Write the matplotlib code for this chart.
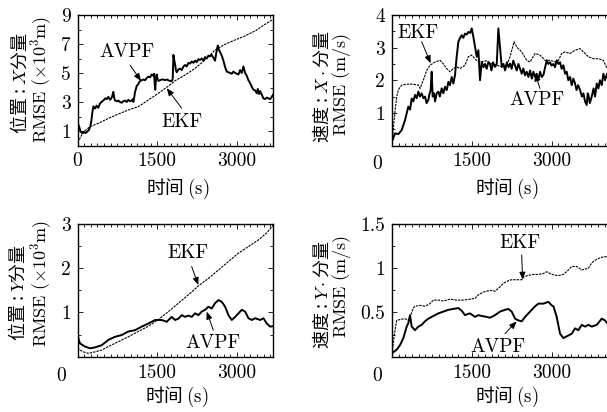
import matplotlib
matplotlib.use("Agg")
import matplotlib.pyplot as plt
from matplotlib.ticker import MultipleLocator

plt.rcParams['font.family'] = ['cmr10', 'Noto Sans CJK SC', 'DejaVu Sans']
plt.rcParams['mathtext.fontset'] = 'cm'
plt.rcParams['axes.unicode_minus'] = False
plt.rcParams['axes.formatter.use_mathtext'] = True

# ---------------- data ----------------
# Position X (x10^3 m)
px_avpf_t = [0, 30, 60, 90, 120, 150, 180, 210, 240, 260, 280, 300, 330, 360, 390, 423, 450, 486, 520, 549, 580,
             612, 643, 660, 674, 690, 705, 737, 768, 800, 831, 862, 893, 925, 956, 988, 1019, 1040, 1050, 1065,
             1082, 1113, 1144, 1176, 1207, 1238, 1270, 1301, 1332, 1364, 1395, 1427, 1440, 1450, 1462, 1475, 1489,
             1505, 1520, 1550, 1583, 1614, 1646, 1677, 1709, 1740, 1771, 1790, 1803, 1818, 1834, 1850, 1866, 1897,
             1928, 1960, 1991, 2022, 2053, 2085, 2116, 2147, 2179, 2210, 2241, 2273, 2304, 2335, 2367, 2398, 2429,
             2461, 2492, 2523, 2555, 2586, 2610, 2637, 2660, 2680, 2712, 2743, 2775, 2806, 2837, 2869, 2900, 2931,
             2963, 2994, 3025, 3057, 3088, 3119, 3151, 3182, 3213, 3245, 3276, 3307, 3339, 3370, 3389, 3410, 3433,
             3464, 3495, 3527, 3558, 3590, 3621, 3652, 3675]
px_avpf_v = [1.6, 1.3, 0.95, 0.85, 0.95, 0.85, 0.95, 1.05, 1.3, 1.7, 2.3, 2.7, 2.55, 2.75, 2.6, 2.9, 3.0, 3.1, 3.25,
             3.2, 3.35, 3.15, 3.3, 3.5, 3.7, 3.3, 3.1, 3.05, 3.1, 3.0, 2.95, 3.05, 3.1, 3.0, 3.15, 3.05, 3.1, 3.2,
             3.0, 3.3, 3.7, 4.1, 4.25, 4.45, 4.5, 4.55, 4.5, 4.65, 4.75, 4.7, 4.9, 4.8, 4.95, 4.3, 3.85, 4.6, 4.9,
             4.6, 4.45, 4.5, 4.55, 4.55, 4.5, 4.55, 4.5, 4.45, 4.45, 4.6, 6.25, 5.9, 5.6, 5.2, 5.05, 5.25, 5.3, 5.2,
             5.45, 5.55, 5.45, 5.7, 5.65, 5.8, 5.7, 5.85, 5.75, 5.95, 5.9, 6.0, 5.85, 6.1, 6.0, 6.2, 6.15, 6.25,
             6.05, 5.85, 6.4, 6.9, 6.6, 6.45, 6.2, 5.85, 5.4, 5.1, 5.05, 5.0, 4.95, 5.1, 5.0, 4.95, 4.9, 5.2, 5.0,
             5.45, 5.0, 4.8, 4.5, 4.3, 4.05, 3.85, 3.8, 3.6, 3.9, 3.55, 3.75, 3.5, 3.25, 3.2, 3.3, 3.25, 3.2, 3.35,
             3.5]
px_ekf_t = [0, 40, 78, 141, 235, 392, 580, 768, 956, 1144, 1332, 1520, 1709, 1834, 2022, 2210, 2398, 2586, 2774,
            2963, 3151, 3339, 3527, 3675]
px_ekf_v = [0.2, 0.45, 0.72, 1.02, 1.3, 1.53, 1.87, 2.17, 2.45, 2.68, 3.14, 3.6, 4.1, 4.47, 4.86, 5.32, 5.9, 6.59,
            6.98, 7.28, 7.56, 7.9, 8.36, 8.7]

# Velocity X (m/s)
vx_avpf_t = [0, 56, 119, 182, 245, 307, 340, 370, 400, 433, 465, 495, 527, 558, 590, 621, 650, 683, 700, 727, 746,
             765, 790, 809, 840, 872, 900, 934, 965, 997, 1030, 1060, 1090, 1122, 1154, 1185, 1216, 1248, 1280,
             1310, 1340, 1373, 1405, 1436, 1470, 1499, 1530, 1561, 1593, 1624, 1655, 1687, 1720, 1749, 1780, 1810,
             1843, 1870, 1900, 1937, 1970, 2000, 2031, 2063, 2095, 2126, 2160, 2190, 2220, 2250, 2280, 2314, 2345,
             2376, 2408, 2440, 2470, 2500, 2533, 2565, 2596, 2630, 2658, 2690, 2721, 2750, 2784, 2815, 2847, 2880,
             2909, 2940, 2972, 3000, 3035, 3065, 3097, 3130, 3160, 3190, 3223, 3255, 3285, 3315, 3348, 3380, 3410,
             3442, 3470, 3500, 3536, 3570, 3599, 3630, 3661, 3680, 3693, 3720, 3756, 3790, 3818, 3850, 3881, 3910,
             3944, 3975, 4006, 4044, 4100]
vx_avpf_v = [0.12, 0.37, 0.35, 0.47, 0.78, 1.19, 1.1, 1.44, 1.35, 1.55, 1.45, 1.65, 1.5, 1.6, 1.45, 1.5, 1.3, 1.39,
             1.55, 1.7, 2.26, 1.5, 1.6, 1.35, 1.6, 1.65, 1.5, 1.75, 1.6, 1.8, 1.7, 1.95, 1.85, 2.1, 1.9, 2.16, 2.72,
             3.18, 3.3, 3.38, 3.3, 3.43, 3.4, 3.48, 3.45, 3.59, 3.33, 3.03, 2.72, 2.92, 2.0, 2.56, 2.4, 2.5, 2.35,
             2.55, 2.5, 2.3, 2.55, 2.41, 2.5, 3.59, 3.0, 2.41, 2.5, 2.3, 2.55, 2.4, 2.51, 2.35, 2.6, 2.45, 2.3, 2.5,
             2.35, 2.2, 2.36, 2.15, 2.26, 2.1, 2.3, 2.05, 2.26, 2.1, 2.2, 2.0, 2.26, 2.1, 2.16, 2.4, 2.61, 2.5, 2.55,
             2.45, 2.5, 2.4, 2.61, 2.5, 2.55, 2.35, 2.46, 2.2, 2.26, 2.0, 2.1, 1.85, 2.05, 1.9, 1.7, 1.85, 1.7, 1.5,
             1.6, 1.35, 1.24, 1.6, 1.55, 1.3, 1.5, 1.75, 1.5, 1.9, 1.75, 2.0, 1.85, 2.2, 2.0, 2.2, 2.15]
vx_ekf_t = [0, 30, 60, 90, 119, 150, 182, 276, 401, 495, 527, 589, 652, 715, 809, 903, 966, 1028, 1091, 1154,
            1216, 1279, 1373, 1436, 1499, 1593, 1687, 1781, 1875, 1969, 2063, 2157, 2220, 2295, 2345, 2439, 2533,
            2596, 2690, 2784, 2878, 2972, 3066, 3129, 3191, 3254, 3348, 3442, 3536, 3599, 3693, 3787, 3881, 3975,
            4044, 4100]
vx_ekf_v = [0.15, 0.6, 1.1, 1.5, 1.7, 1.78, 1.85, 1.88, 1.88, 1.85, 1.75, 2.0, 2.3, 2.46, 2.56, 2.61, 2.5, 2.36,
            2.26, 2.36, 2.41, 2.36, 2.46, 2.72, 2.77, 2.6, 2.56, 2.6, 2.5, 2.46, 2.41, 2.46, 2.72, 3.18, 3.02, 2.87,
            2.61, 2.56, 2.82, 2.77, 2.61, 2.61, 2.56, 2.61, 2.82, 2.87, 2.82, 2.92, 2.97, 2.87, 2.72, 2.66, 2.66,
            2.61, 2.36, 2.3]

# Position Y (x10^3 m)
py_avpf_t = [0, 20, 47, 141, 235, 329, 455, 580, 705, 831, 956, 1082, 1207, 1332, 1458, 1583, 1677, 1771, 1834,
             1897, 1960, 2022, 2085, 2147, 2210, 2273, 2335, 2398, 2461, 2523, 2586, 2649, 2712, 2775, 2837, 2900,
             2963, 3025, 3088, 3151, 3213, 3276, 3339, 3433, 3495, 3558, 3621, 3678]
py_avpf_v = [0.55, 0.4, 0.3, 0.23, 0.19, 0.21, 0.26, 0.38, 0.45, 0.49, 0.57, 0.6, 0.68, 0.75, 0.83, 0.83, 0.79,
             0.9, 0.83, 0.86, 0.94, 0.9, 0.93, 0.9, 0.98, 0.94, 1.02, 1.06, 1.13, 1.09, 1.21, 1.28, 1.24, 1.13,
             0.94, 0.83, 0.9, 0.98, 1.06, 1.02, 0.87, 0.83, 0.87, 0.83, 0.87, 0.75, 0.68, 0.69]
py_ekf_t = [0, 47, 110, 204, 329, 455, 580, 768, 956, 1144, 1332, 1520, 1709, 1897, 2085, 2273, 2461, 2649, 2837,
            3025, 3213, 3401, 3558, 3678]
py_ekf_v = [0.2, 0.15, 0.11, 0.075, 0.11, 0.15, 0.23, 0.34, 0.45, 0.57, 0.69, 0.84, 1.02, 1.21, 1.4, 1.6, 1.77,
            1.96, 2.15, 2.34, 2.49, 2.64, 2.8, 2.97]

# Velocity Y (m/s)
vy_avpf_t = [0, 88, 150, 213, 276, 307, 339, 370, 433, 495, 558, 621, 683, 746, 809, 872, 966, 1060, 1154, 1248,
             1310, 1373, 1467, 1561, 1624, 1687, 1781, 1843, 1937, 2031, 2126, 2188, 2251, 2314, 2376, 2439, 2502,
             2596, 2690, 2753, 2847, 2941, 3003, 3035, 3097, 3160, 3223, 3285, 3380, 3442, 3505, 3567, 3630, 3693,
             3756, 3850, 3944, 4006, 4044, 4100]
vy_avpf_v = [0.04, 0.08, 0.13, 0.21, 0.34, 0.38, 0.47, 0.34, 0.3, 0.34, 0.36, 0.4, 0.43, 0.45, 0.47, 0.49, 0.51,
             0.53, 0.54, 0.55, 0.52, 0.47, 0.49, 0.45, 0.47, 0.46, 0.45, 0.44, 0.47, 0.51, 0.53, 0.54, 0.51, 0.43,
             0.41, 0.4, 0.45, 0.51, 0.57, 0.6, 0.6, 0.62, 0.58, 0.57, 0.45, 0.26, 0.21, 0.23, 0.26, 0.32, 0.3, 0.36,
             0.34, 0.36, 0.34, 0.36, 0.43, 0.41, 0.38, 0.38]
vy_ekf_t = [0, 56, 88, 150, 245, 307, 339, 401, 433, 527, 621, 715, 777, 872, 966, 1091, 1216, 1342, 1467, 1561,
            1624, 1718, 1843, 1937, 2031, 2094, 2188, 2251, 2345, 2439, 2470, 2564, 2658, 2753, 2847, 2909, 2972,
            3066, 3160, 3223, 3317, 3380, 3474, 3567, 3693, 3756, 3818, 3881, 3975, 4044, 4100]
vy_ekf_v = [0.04, 0.3, 0.41, 0.42, 0.43, 0.41, 0.45, 0.55, 0.57, 0.58, 0.57, 0.6, 0.64, 0.64, 0.63, 0.65, 0.64,
            0.64, 0.65, 0.66, 0.7, 0.73, 0.75, 0.74, 0.79, 0.83, 0.86, 0.87, 0.87, 0.87, 0.9, 0.92, 0.93, 0.93,
            0.94, 0.96, 0.94, 0.92, 0.92, 0.93, 0.98, 1.02, 1.02, 0.98, 1.0, 1.06, 1.09, 1.11, 1.13, 1.13, 1.13]

x_major = [1500, 3000]
x_labels = ['1500', '3000']
px_yticks = [1, 3, 5, 7, 9]
px_ylabels = ['1', '3', '5', '7', '9']
vx_yticks = [1, 2, 3, 4]
vx_ylabels = ['1', '2', '3', '4']
py_yticks = [1, 2, 3]
py_ylabels = ['1', '2', '3']
vy_yticks = [0.5, 1, 1.5]
vy_ylabels = ['0.5', '1', '1.5']

ylabel1 = ['位置 : $X$分量', '速度 : $X\\cdot$分量', '位置 : $Y$分量', '速度 : $Y\\cdot$分量']
ylabel2 = [r'$\mathrm{RMSE\ (\times10^3m)}$', r'$\mathrm{RMSE\ (m/s)}$',
           r'$\mathrm{RMSE\ (\times10^3m)}$', r'$\mathrm{RMSE\ (m/s)}$']
xlabel = '时间 $\\mathrm{(s)}$'

# ---------------- figure ----------------
W, H = 607, 412
fig = plt.figure(figsize=(W / 100, H / 100), dpi=100)

def pos(l, t, r, b):
    return [l / W, 1 - b / H, (r - l) / W, (b - t) / H]

FS = 14
FS_X = 13.5
FS_Y = 13
CJK = ['Noto Sans CJK SC']

ax1 = fig.add_axes(pos(77.5, 15, 273, 145.5))
ax2 = fig.add_axes(pos(392, 15, 626, 145.5))
ax3 = fig.add_axes(pos(77.5, 224, 273, 356.7))
ax4 = fig.add_axes(pos(392, 224, 626, 356.7))

spec = [
    (ax1, px_avpf_t, px_avpf_v, px_ekf_t, px_ekf_v, 3675, 9, px_yticks, px_ylabels, 1),
    (ax2, vx_avpf_t, vx_avpf_v, vx_ekf_t, vx_ekf_v, 4400, 4, vx_yticks, vx_ylabels, 0.5),
    (ax3, py_avpf_t, py_avpf_v, py_ekf_t, py_ekf_v, 3675, 3, py_yticks, py_ylabels, 0.5),
    (ax4, vy_avpf_t, vy_avpf_v, vy_ekf_t, vy_ekf_v, 4400, 1.5, vy_yticks, vy_ylabels, 0.25),
]

for i, (ax, at, av, et, ev, xmax, ymax, yt, yl, ymin_step) in enumerate(spec):
    ax.plot(et, ev, color='black', lw=0.8, ls=(0, (2.2, 0.9)))
    ax.plot(at, av, color='black', lw=1.4)
    ax.set_xlim(0, xmax)
    ax.set_ylim(0, ymax)
    if i == 0:
        ax.set_xticks([0] + x_major)
        ax.set_xticklabels(['0'] + x_labels)
    else:
        ax.set_xticks(x_major)
        ax.set_xticklabels(x_labels)
    ax.xaxis.set_minor_locator(MultipleLocator(125))
    ax.set_yticks(yt)
    ax.set_yticklabels(yl)
    ax.yaxis.set_minor_locator(MultipleLocator(ymin_step))
    ax.tick_params(which='both', direction='in', top=True, right=True, labelsize=FS, width=0.6)
    ax.tick_params(which='major', length=3.5)
    ax.tick_params(which='minor', length=2.5)
    ax.tick_params(axis='x', pad=5)
    ax.tick_params(axis='y', pad=5)
    for s in ax.spines.values():
        s.set_linewidth(1.0)

# corner "0" labels
fig.text(377 / W, 1 - 164 / H, '0', fontsize=FS, ha='center', va='center')
fig.text(61 / W, 1 - 376 / H, '0', fontsize=FS, ha='center', va='center')
fig.text(377 / W, 1 - 376 / H, '0', fontsize=FS, ha='center', va='center')

# x labels
for (xc, yc) in [(178, 189), (507, 189), (177, 397), (507, 397)]:
    fig.text(xc / W, 1 - yc / H, xlabel, fontsize=FS_X, family=CJK, ha='center', va='center')

# y labels
ylab_pos = [((20, 83), (41, 79)), ((321, 87), (341, 85)), ((18, 293), (41, 283)), ((321, 295), (341, 287))]
for k, ((x1, y1), (x2, y2)) in enumerate(ylab_pos):
    fig.text(x1 / W, 1 - y1 / H, ylabel1[k], fontsize=FS_Y, family=CJK, rotation=90, ha='center', va='center')
    fig.text(x2 / W, 1 - y2 / H, ylabel2[k], fontsize=FS_Y, rotation=90, ha='center', va='center')

# annotations
arrow = dict(arrowstyle='-|>,head_length=0.45,head_width=0.18', lw=0.7, color='black', shrinkA=0, shrinkB=0)

def note(ax, label, txy, tail, tip):
    ax.text(txy[0], txy[1], label, fontsize=FS, ha='center', va='center')
    ax.annotate('', xy=tip, xytext=tail, arrowprops=arrow)

note(ax1, 'AVPF', (925, 6.47), (987, 5.55), (1194, 4.45))
note(ax1, 'EKF', (1959, 1.64), (1959, 2.57), (1677, 3.95))
note(ax2, 'EKF', (495, 3.44), (558, 3.18), (727, 2.52))
note(ax2, 'AVPF', (2720, 1.40), (2782, 1.75), (2688, 2.21))
note(ax3, 'EKF', (2083, 2.34), (2146, 2.04), (2271, 1.62))
note(ax3, 'AVPF', (2553, 0.30), (2553, 0.60), (2429, 1.02))
note(ax4, 'EKF', (2406, 1.28), (2438, 1.15), (2457, 0.87))
note(ax4, 'AVPF', (1998, 0.11), (2124, 0.26), (2344, 0.40))

fig.savefig('out.png', dpi=100)
